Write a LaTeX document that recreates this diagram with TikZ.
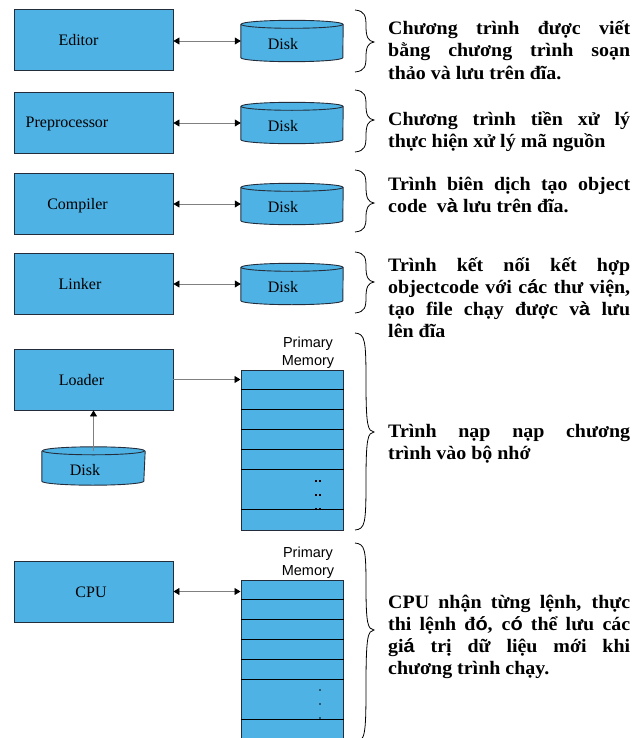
\documentclass[tikz,border=0pt]{standalone}
\usepackage{fontspec}
\setmainfont{Liberation Serif}
\newfontfamily\descfont[FakeStretch=1.05]{Liberation Serif Bold}
\newfontfamily\accfont[FakeStretch=1.05]{Liberation Sans Bold}
\newfontfamily\memfont{Liberation Sans}
\usetikzlibrary{arrows.meta}

\definecolor{boxblue}{RGB}{78,178,228}
\definecolor{boxedge}{RGB}{35,45,60}
\definecolor{wiregray}{RGB}{128,128,128}

% accented vowels set in a sans face
\newcommand\sa[1]{{\accfont #1}}
% a justified line of fixed width, and a ragged last line
\newcommand\fullln[1]{\makebox[242bp][s]{#1}\\}
\newcommand\lastln[1]{\makebox[242bp][l]{#1}}

\tikzset{
  x=1bp, y=-1bp,
  >={Triangle[length=6bp,width=7bp,color=black]},
  stage/.style={rectangle, draw=boxedge, fill=boxblue, line width=0.9bp,
    minimum width=159bp, minimum height=61bp, inner sep=0},
  stagelabel/.style={inner sep=0, anchor=base,
    font=\fontsize{16bp}{18bp}\selectfont},
  diskbody/.style={rectangle, inner sep=0, minimum width=102bp},
  disklabel/.style={inner sep=0, anchor=base,
    font=\fontsize{16bp}{18bp}\selectfont},
  diskline/.style={draw=boxedge, line width=0.9bp},
  memory/.style={rectangle, draw=boxedge, fill=boxblue, line width=1bp,
    minimum width=102bp, minimum height=160bp, inner sep=0},
  memlabel/.style={inner sep=0, anchor=south, align=center,
    font=\memfont\fontsize{14.5bp}{18bp}\selectfont},
  rowline/.style={draw=black, line width=1.3bp},
  link/.style={draw=wiregray, line width=0.7bp},
  desc/.style={inner sep=0, anchor=base west,
    font=\descfont\fontsize{19bp}{22bp}\selectfont},
  bracestroke/.style={draw=black, line width=0.8bp},
}

% cylinder outline around a named disk node
\newcommand\drawdisk[1]{%
  \fill[boxblue] ([yshift=-4bp]#1.north west) -- ([yshift=4bp]#1.south west)
    arc[start angle=180, end angle=360, x radius=51bp, y radius=4bp]
    -- ([yshift=-4bp]#1.north east)
    arc[start angle=0, end angle=180, x radius=51bp, y radius=4bp] -- cycle;
  \draw[diskline] ([yshift=-4bp]#1.north west) -- ([yshift=4bp]#1.south west)
    arc[start angle=180, end angle=360, x radius=51bp, y radius=4bp]
    -- ([yshift=-4bp]#1.north east);
  \draw[diskline] ([yshift=-4bp]#1.north) ellipse[x radius=51bp, y radius=4bp];
}

% horizontal cell lines of a memory column
\newcommand\memrows[1]{%
  \foreach \k in {20,40,60,80,100,140}
    \draw[rowline] ([yshift=-\k bp]#1.north west) -- ([yshift=-\k bp]#1.north east);
}

% right curly brace: top, tip, bottom
\newcommand\curlybr[3]{%
  \draw[bracestroke] (355,#1) .. controls (365,#1+1) and (366,#1+6) .. (366,{(#1+#2)/2})
    .. controls (366,#2-5) and (368,#2-1) .. (374,#2)
    .. controls (368,#2+1) and (366,#2+5) .. (366,{(#2+#3)/2})
    .. controls (366,#3-6) and (365,#3-1) .. (355,#3);
}

\begin{document}
\begin{tikzpicture}
\useasboundingbox (0,0) rectangle (636,738);

% ---- program stages ----
\node[stage] (editor) at (93.5,39.5) {};
\node[stage] (prep)   at (93.5,123) {};
\node[stage] (comp)   at (93.5,204) {};
\node[stage] (link)   at (93.5,284) {};
\node[stage] (load)   at (93.5,379.5) {};
\node[stage] (cpu)    at (93.5,591.5) {};

\node[stagelabel] at (78.5,45.5)  {Editor};
\node[stagelabel] at (67,127)     {Preprocessor};
\node[stagelabel] at (77.5,209.5) {Compiler};
\node[stagelabel] at (80,289.5)   {Linker};
\node[stagelabel] at (81.5,385)   {Loader};
\node[stagelabel] at (91,597)     {CPU};

% ---- disks ----
\node[diskbody, minimum height=41bp] (d1) at (292,41) {};
\node[diskbody, minimum height=41bp] (d2) at (292,123) {};
\node[diskbody, minimum height=41bp] (d3) at (292,204) {};
\node[diskbody, minimum height=41bp] (d4) at (292,284) {};
\node[diskbody, minimum height=38bp, minimum width=103bp] (d5) at (93.5,466) {};
\drawdisk{d1}\drawdisk{d2}\drawdisk{d3}\drawdisk{d4}\drawdisk{d5}
\foreach \d in {d1,d2,d3,d4}
  \node[disklabel] at ([xshift=-9bp,yshift=-8.5bp]\d.center) {Disk};
\node[disklabel] at ([xshift=-8.5bp,yshift=-9bp]d5.center) {Disk};

% ---- primary memory ----
\node[memory] (mem1) at (292,450) {};
\node[memory] (mem2) at (292,660) {};
\memrows{mem1}\memrows{mem2}
\node[memlabel] at ([xshift=16bp,yshift=1bp]mem1.north) {Primary\\Memory};
\node[memlabel] at ([xshift=16bp,yshift=1bp]mem2.north) {Primary\\Memory};

\foreach \yy in {481,495,509} {
  \fill[black] (315.4,\yy-0.8) rectangle (317.4,\yy+0.8);
  \fill[black] (318.6,\yy-0.8) rectangle (320.6,\yy+0.8);
}
\foreach \yy in {690,704,718}
  \fill[black] (320,\yy) circle[radius=0.9bp];

% ---- connectors ----
\draw[link,<->] (d1.west -| editor.east) -- (d1.west);
\draw[link,<->] (d2.west -| prep.east) -- (d2.west);
\draw[link,<->] (d3.west -| comp.east) -- (d3.west);
\draw[link,<->] (d4.west -| link.east) -- (d4.west);
\draw[link,->] (load.east) -- (load.east -| mem1.west);
\draw[link,->] ([yshift=-4bp]d5.north) -- (load.south);
\draw[link,<->] (cpu.east) -- (cpu.east -| mem2.west);

% ---- braces ----
\curlybr{10}{42}{72}
\curlybr{90}{120}{152}
\curlybr{170}{203}{232}
\curlybr{252}{282}{313}
\curlybr{333}{432}{530}
\curlybr{543}{630}{742}

% ---- descriptions ----
\node[desc] (t1) at (388,35) {\parbox[t]{242bp}{%
  \fullln{Chương trình được viết}\fullln{bằng chương trình soạn}\lastln{thảo và lưu trên đĩa.}}};
\node[desc] (t2) at (388,125) {\parbox[t]{242bp}{%
  \fullln{Chương trình tiền xử lý}\lastln{thực hiện xử lý mã nguồn}}};
\node[desc] (t3) at (388,190) {\parbox[t]{242bp}{%
  \fullln{Trình biên dịch tạo object}\lastln{code\ \ v\sa{à} lưu trên đĩa.}}};
\node[desc] (t4) at (388,271) {\parbox[t]{242bp}{%
  \fullln{Trình kết nối kết hợp}\fullln{objectcode với c\sa{á}c thư viện,}%
  \fullln{tạo file chạy được v\sa{à} lưu}\lastln{lên đĩa}}};
\node[desc] (t5) at (388,437) {\parbox[t]{242bp}{%
  \fullln{Trình nạp nạp chương}\lastln{trình vào bộ nhớ}}};
\node[desc] (t6) at (388,608) {\parbox[t]{242bp}{%
  \fullln{CPU nhận từng lệnh, thực}\fullln{thi lệnh đ\sa{ó}, c\sa{ó} thể lưu các}%
  \fullln{gi\sa{á} trị dữ liệu mới khi}\lastln{chương trình chạy.}}};
\end{tikzpicture}
\end{document}
